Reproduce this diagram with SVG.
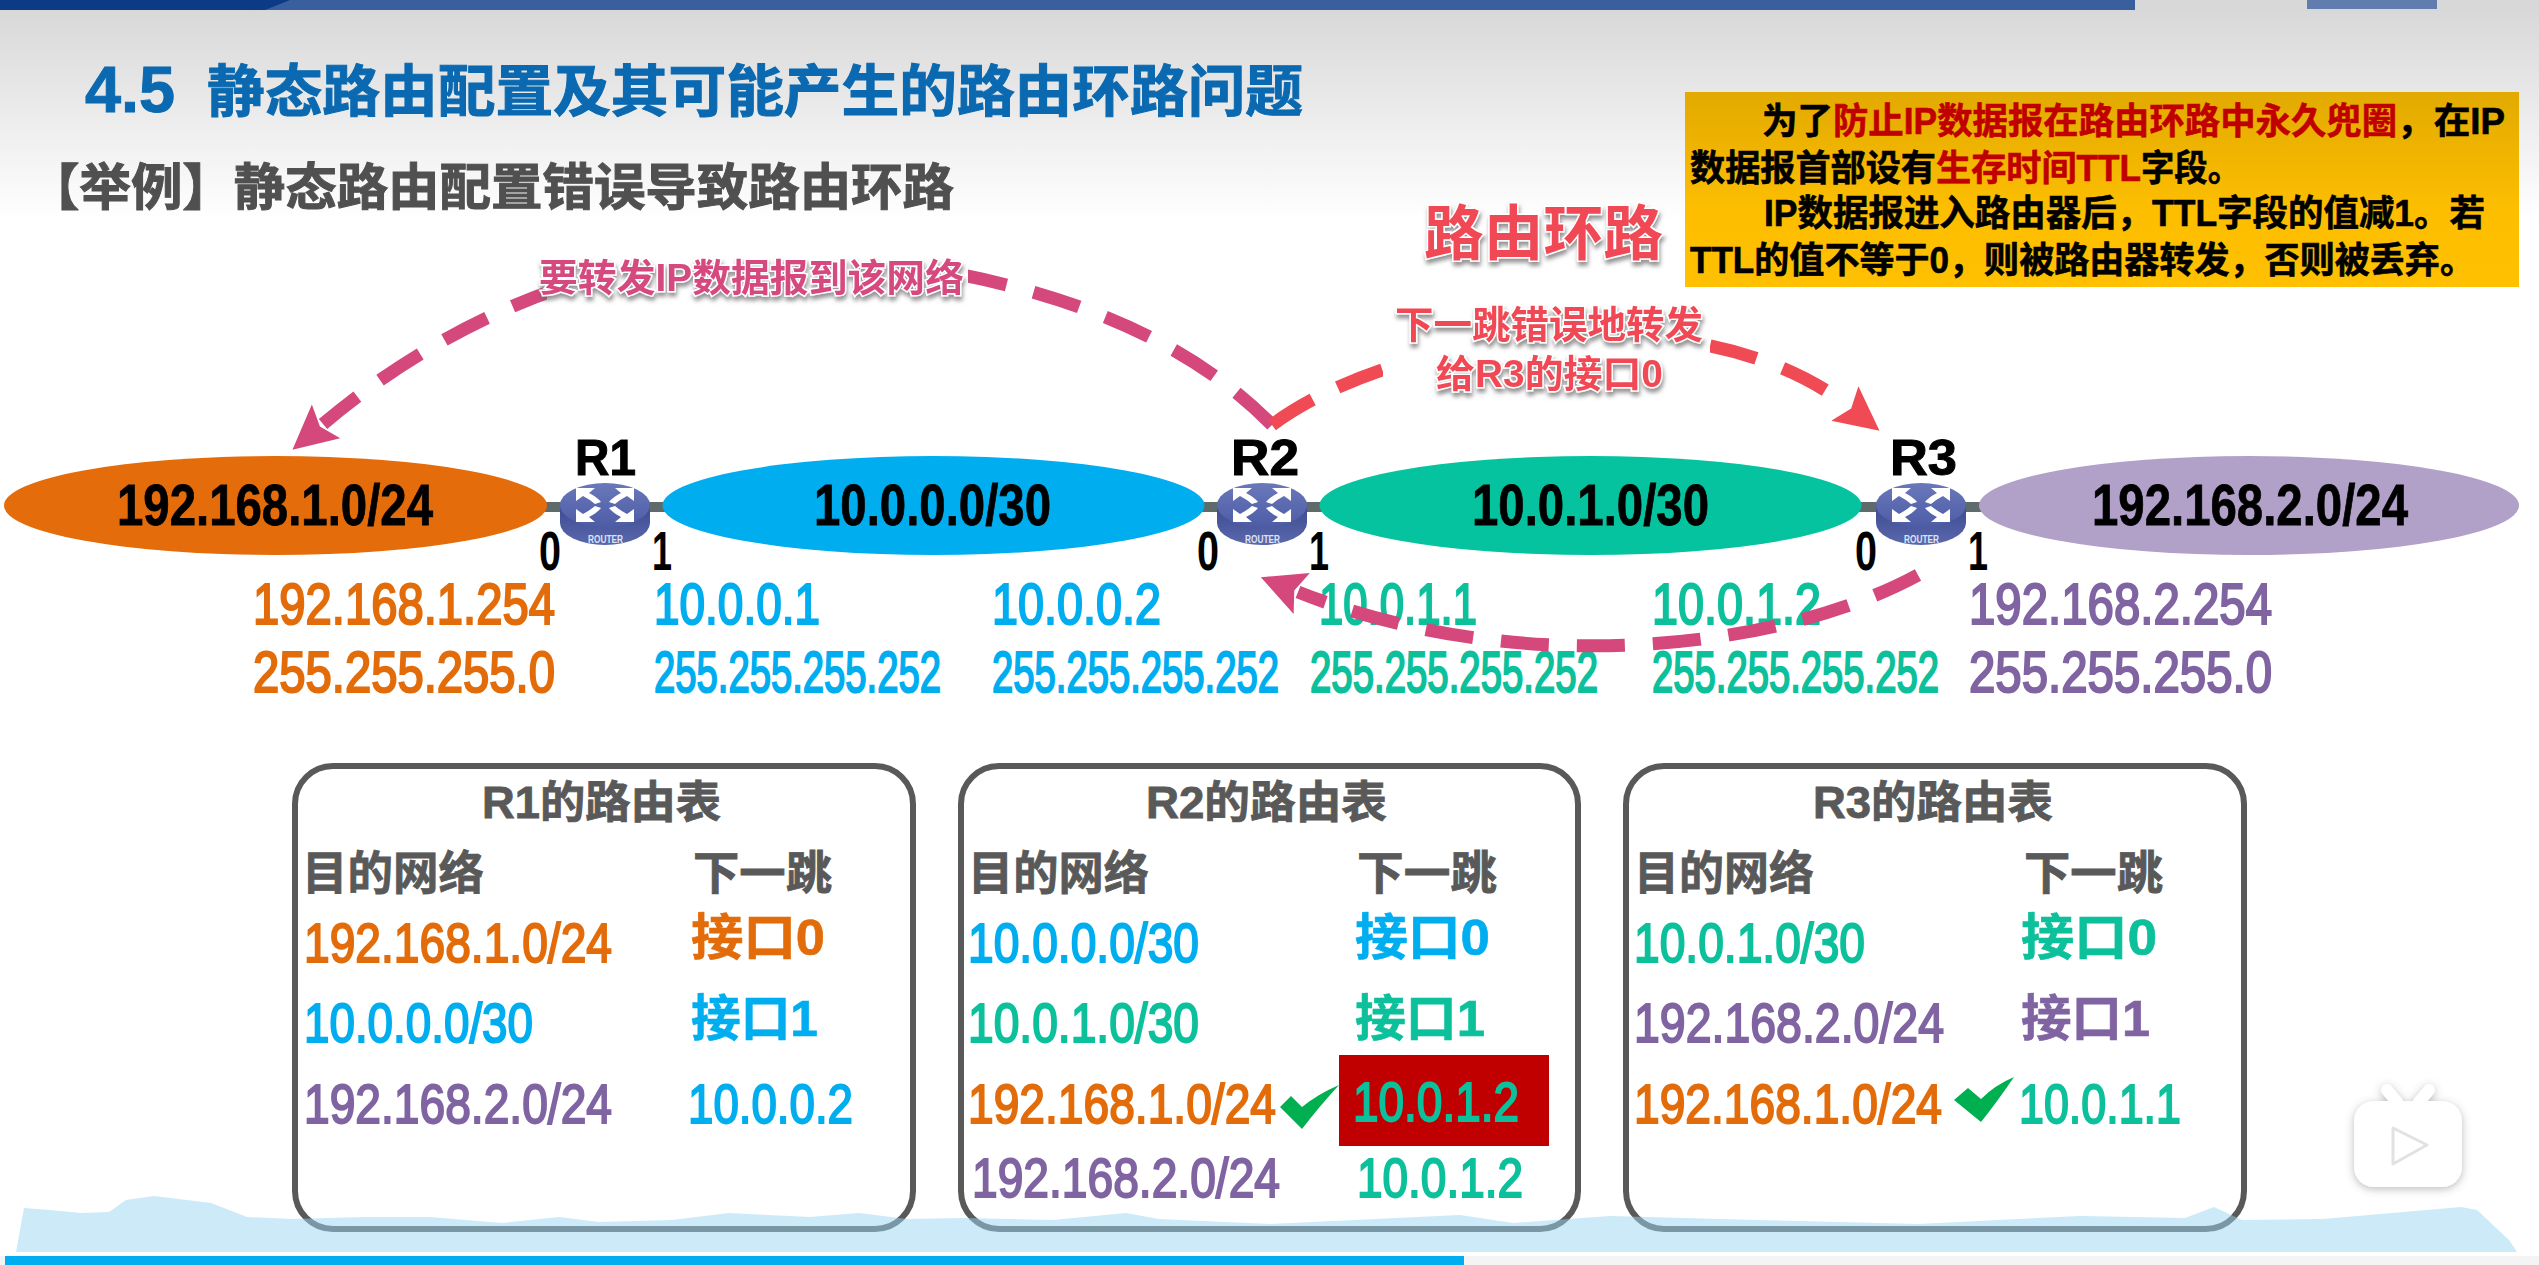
<svg xmlns="http://www.w3.org/2000/svg" xmlns:xlink="http://www.w3.org/1999/xlink" width="2539" height="1265" viewBox="0 0 2539 1265">
<defs>
<style>
text{font-family:"Liberation Sans","Noto Sans CJK SC",sans-serif}
.b{font-weight:700;stroke-width:1px}
.ip{font-size:58px;stroke-width:2.2px}
.rt{font-size:56px;stroke-width:2px}
.net{font-size:58px;font-weight:700;fill:#000;stroke:#000;stroke-width:.8px}
.rl{font-size:50px;font-weight:700;fill:#000;stroke:#000;stroke-width:1px}
.if{font-size:56px;font-weight:700;fill:#000}
.note{font-size:36px;font-weight:700;fill:#000;stroke:#000;stroke-width:.6px}
.note.red{fill:#c00000;stroke:#c00000}
.tt{font-size:44px;font-weight:700;fill:#595959;stroke:#595959;stroke-width:.8px}
.hd{font-size:46px;font-weight:700;fill:#595959;stroke:#595959;stroke-width:.8px}
.nh{font-size:50px;font-weight:700;stroke-width:.6px}
.or{fill:#e36c0a;stroke:#e36c0a}
.bl{fill:#00aeef;stroke:#00aeef}
.gr{fill:#0cc09b;stroke:#0cc09b}
.pu{fill:#8064a2;stroke:#8064a2}
.tbl{fill:none;stroke:#595959;stroke-width:6}
.link{fill:#5f6a6a}
.arc{fill:none;stroke-width:13;stroke-dasharray:48 28}
.pk{stroke:#d4487c}
.rd{stroke:#f04a54}
.lab{font-weight:700;paint-order:stroke;stroke:#fff;stroke-width:3px;filter:url(#sh)}
.chk{fill:#00b050}
.rtxt{font-size:11px;font-weight:700;fill:#dfe3f5}
</style>
<linearGradient id="bg" x1="0" y1="0" x2="0" y2="1"><stop offset="0" stop-color="#d8d8d8"/><stop offset="1" stop-color="#fff"/></linearGradient>
<linearGradient id="nb" x1="0" y1="0" x2="0" y2="1"><stop offset="0" stop-color="#e2aa00"/><stop offset="0.6" stop-color="#fdbe00"/><stop offset="1" stop-color="#ffc000"/></linearGradient>
<linearGradient id="rtop" x1="0" y1="0" x2="0" y2="1"><stop offset="0" stop-color="#6a78bb"/><stop offset="1" stop-color="#4d5ca5"/></linearGradient>
<linearGradient id="rside" x1="0" y1="0" x2="0" y2="1"><stop offset="0" stop-color="#3d4a90"/><stop offset="1" stop-color="#5a68ad"/></linearGradient>
<filter id="sh" x="-10%" y="-20%" width="120%" height="150%"><feDropShadow dx="1" dy="4" stdDeviation="2" flood-color="#666" flood-opacity="0.7"/></filter>
<filter id="ic" x="-20%" y="-20%" width="140%" height="140%"><feDropShadow dx="0" dy="2" stdDeviation="4" flood-color="#555" flood-opacity="0.4"/></filter>
<marker id="hp" markerUnits="userSpaceOnUse" markerWidth="48" markerHeight="48" refX="4" refY="24" orient="auto"><path d="M0 2L44 24L0 46L8 24Z" fill="#d4487c"/></marker>
<marker id="hr" markerUnits="userSpaceOnUse" markerWidth="48" markerHeight="48" refX="4" refY="24" orient="auto"><path d="M0 2L44 24L0 46L8 24Z" fill="#f04a54"/></marker>
<g id="rbody">
<path d="M-45 0V18A45 22 0 0 0 45 18V0Z" fill="url(#rside)"/>
<ellipse cx="0" cy="0" rx="45" ry="22" fill="url(#rtop)"/>
<g fill="#fff">
<path d="M-29 -17H-10L-16 -12Q-8 -8 -4 -3L-10 -1Q-16 -6 -22 -9L-29 -4Z"/>
<path d="M29 -17H10L16 -12Q8 -8 4 -3L10 -1Q16 -6 22 -9L29 -4Z"/>
<path d="M-29 17H-10L-16 12Q-8 8 -4 3L-10 1Q-16 6 -22 9L-29 4Z"/>
<path d="M29 17H10L16 12Q8 8 4 3L10 1Q16 6 22 9L29 4Z"/>
</g>
</g>
</defs>

<g id="background">
<rect width="2539" height="1265" fill="#fff"/>
<rect width="2539" height="10" fill="#d8d8d8"/>
<rect y="10" width="2539" height="210" fill="url(#bg)"/>
<rect width="2135" height="10" fill="#3a5f9f"/>
<path d="M0 0H290L265 10H0Z" fill="#0c3a84"/>
<rect x="2307" width="130" height="9" fill="#3a5f9f" opacity="0.75"/>
</g>

<g id="title">
<text class="b" x="85" y="112" font-size="65" fill="#0a69b0" stroke="#0a69b0" textLength="90" lengthAdjust="spacingAndGlyphs">4.5</text>
<text class="b" x="207" y="111" font-size="56" fill="#0a69b0" stroke="#0a69b0" textLength="1096" lengthAdjust="spacingAndGlyphs">静态路由配置及其可能产生的路由环路问题</text>
<text class="b" x="28" y="205" font-size="50" fill="#505050" stroke="#505050" textLength="926" lengthAdjust="spacingAndGlyphs">【举例】静态路由配置错误导致路由环路</text>
</g>

<g id="note">
<rect x="1685" y="92" width="834" height="195" fill="url(#nb)"/>
<text class="note" x="1762" y="134" textLength="71" lengthAdjust="spacingAndGlyphs">为了</text>
<text class="note red" x="1833" y="134" textLength="564" lengthAdjust="spacingAndGlyphs">防止IP数据报在路由环路中永久兜圈</text>
<text class="note" x="2397" y="134" textLength="108" lengthAdjust="spacingAndGlyphs">，在IP</text>
<text class="note" x="1690" y="181" textLength="246" lengthAdjust="spacingAndGlyphs">数据报首部设有</text>
<text class="note red" x="1936" y="181" textLength="205" lengthAdjust="spacingAndGlyphs">生存时间TTL</text>
<text class="note" x="2141" y="181" textLength="100" lengthAdjust="spacingAndGlyphs">字段。</text>
<text class="note" x="1764" y="226" textLength="721" lengthAdjust="spacingAndGlyphs">IP数据报进入路由器后，TTL字段的值减1。若</text>
<text class="note" x="1690" y="273" textLength="785" lengthAdjust="spacingAndGlyphs">TTL的值不等于0，则被路由器转发，否则被丢弃。</text>
</g>

<g id="links">
<rect class="link" x="540" y="502" width="130" height="10"/>
<rect class="link" x="1197" y="502" width="130" height="10"/>
<rect class="link" x="1854" y="502" width="130" height="10"/>
</g>

<g id="net-192-168-1">
<ellipse cx="275.500" cy="505.500" rx="271.500" ry="49.500" fill="#e46c0a"/>
<text class="net" x="117" y="525" textLength="316" lengthAdjust="spacingAndGlyphs">192.168.1.0/24</text>
</g>
<g id="net-10-0-0">
<ellipse cx="933.500" cy="505.500" rx="271" ry="49.500" fill="#00aeef"/>
<text class="net" x="814" y="525" textLength="237" lengthAdjust="spacingAndGlyphs">10.0.0.0/30</text>
</g>
<g id="net-10-0-1">
<ellipse cx="1590.500" cy="505.500" rx="271" ry="49.500" fill="#06c3a0"/>
<text class="net" x="1472" y="525" textLength="237" lengthAdjust="spacingAndGlyphs">10.0.1.0/30</text>
</g>
<g id="net-192-168-2">
<ellipse cx="2249" cy="505.500" rx="270" ry="49.500" fill="#b1a0c7"/>
<text class="net" x="2092" y="525" textLength="316" lengthAdjust="spacingAndGlyphs">192.168.2.0/24</text>
</g>

<g id="R1">
<use href="#rbody" xlink:href="#rbody" transform="translate(605 505)"/>
<text class="rtxt" x="588" y="543" textLength="35" lengthAdjust="spacingAndGlyphs">ROUTER</text>
<text class="rl" x="575" y="475" textLength="61" lengthAdjust="spacingAndGlyphs">R1</text>
<text class="if" x="539" y="570" textLength="22" lengthAdjust="spacingAndGlyphs">0</text>
<text class="if" x="652" y="570" textLength="20" lengthAdjust="spacingAndGlyphs">1</text>
</g>
<g id="R2">
<use href="#rbody" xlink:href="#rbody" transform="translate(1262 505)"/>
<text class="rtxt" x="1245" y="543" textLength="35" lengthAdjust="spacingAndGlyphs">ROUTER</text>
<text class="rl" x="1231" y="475" textLength="68" lengthAdjust="spacingAndGlyphs">R2</text>
<text class="if" x="1197" y="570" textLength="22" lengthAdjust="spacingAndGlyphs">0</text>
<text class="if" x="1309" y="570" textLength="20" lengthAdjust="spacingAndGlyphs">1</text>
</g>
<g id="R3">
<use href="#rbody" xlink:href="#rbody" transform="translate(1921 505)"/>
<text class="rtxt" x="1904" y="543" textLength="35" lengthAdjust="spacingAndGlyphs">ROUTER</text>
<text class="rl" x="1890" y="475" textLength="67" lengthAdjust="spacingAndGlyphs">R3</text>
<text class="if" x="1855" y="570" textLength="22" lengthAdjust="spacingAndGlyphs">0</text>
<text class="if" x="1968" y="570" textLength="20" lengthAdjust="spacingAndGlyphs">1</text>
</g>

<g id="addresses">
<text class="ip or" x="253" y="624" textLength="302" lengthAdjust="spacingAndGlyphs">192.168.1.254</text>
<text class="ip or" x="253" y="692" textLength="302" lengthAdjust="spacingAndGlyphs">255.255.255.0</text>
<text class="ip bl" x="654" y="624" textLength="166" lengthAdjust="spacingAndGlyphs">10.0.0.1</text>
<text class="ip bl" x="654" y="692" textLength="287" lengthAdjust="spacingAndGlyphs">255.255.255.252</text>
<text class="ip bl" x="992" y="624" textLength="169" lengthAdjust="spacingAndGlyphs">10.0.0.2</text>
<text class="ip bl" x="992" y="692" textLength="287" lengthAdjust="spacingAndGlyphs">255.255.255.252</text>
<text class="ip gr" x="1319" y="624" textLength="158" lengthAdjust="spacingAndGlyphs">10.0.1.1</text>
<text class="ip gr" x="1310" y="692" textLength="288" lengthAdjust="spacingAndGlyphs">255.255.255.252</text>
<text class="ip gr" x="1652" y="624" textLength="169" lengthAdjust="spacingAndGlyphs">10.0.1.2</text>
<text class="ip gr" x="1652" y="692" textLength="287" lengthAdjust="spacingAndGlyphs">255.255.255.252</text>
<text class="ip pu" x="1969" y="624" textLength="303" lengthAdjust="spacingAndGlyphs">192.168.2.254</text>
<text class="ip pu" x="1969" y="692" textLength="303" lengthAdjust="spacingAndGlyphs">255.255.255.0</text>
</g>

<g id="connectors">
<path class="arc pk" marker-end="url(#hp)" d="M1272 425C1150 300 950 260 760 252C600 254 445 321 323 424"/>
<path class="arc rd" marker-end="url(#hr)" d="M1272 425C1400 330 1700 290 1848 406"/>
<path class="arc pk" marker-end="url(#hp)" d="M1918 575C1780 650 1520 680 1298 592"/>
</g>

<g id="label-forward">
<rect x="547" y="245" width="421" height="55" fill="#fff"/>
<text class="lab" x="539" y="291" font-size="38" fill="#d6487e" textLength="425" lengthAdjust="spacingAndGlyphs">要转发IP数据报到该网络</text>
</g>
<g id="label-loop">
<rect x="1383" y="300" width="327" height="100" fill="#fff"/>
<text class="lab" x="1424" y="255" font-size="60" fill="#f04a54" textLength="239" lengthAdjust="spacingAndGlyphs">路由环路</text>
<text class="lab" x="1395" y="338" font-size="38" fill="#f04a54" textLength="308" lengthAdjust="spacingAndGlyphs">下一跳错误地转发</text>
<text class="lab" x="1436" y="387" font-size="38" fill="#f04a54" textLength="227" lengthAdjust="spacingAndGlyphs">给R3的接口0</text>
</g>

<g id="table-R1">
<rect class="tbl" x="295" y="766" width="618" height="463" rx="38"/>
<text class="tt" x="482" y="818" textLength="239" lengthAdjust="spacingAndGlyphs">R1的路由表</text>
<text class="hd" x="302" y="889" textLength="182" lengthAdjust="spacingAndGlyphs">目的网络</text>
<text class="hd" x="693" y="889" textLength="139" lengthAdjust="spacingAndGlyphs">下一跳</text>
<text class="rt or" x="304" y="962" textLength="308" lengthAdjust="spacingAndGlyphs">192.168.1.0/24</text>
<text class="nh or" x="691" y="955" textLength="134" lengthAdjust="spacingAndGlyphs">接口0</text>
<text class="rt bl" x="304" y="1042" textLength="229" lengthAdjust="spacingAndGlyphs">10.0.0.0/30</text>
<text class="nh bl" x="691" y="1036" textLength="127" lengthAdjust="spacingAndGlyphs">接口1</text>
<text class="rt pu" x="304" y="1123" textLength="308" lengthAdjust="spacingAndGlyphs">192.168.2.0/24</text>
<text class="rt bl" x="688" y="1123" textLength="165" lengthAdjust="spacingAndGlyphs">10.0.0.2</text>
</g>

<g id="table-R2">
<rect class="tbl" x="961" y="766" width="617" height="463" rx="38"/>
<text class="tt" x="1146" y="818" textLength="241" lengthAdjust="spacingAndGlyphs">R2的路由表</text>
<text class="hd" x="968" y="889" textLength="181" lengthAdjust="spacingAndGlyphs">目的网络</text>
<text class="hd" x="1357" y="889" textLength="140" lengthAdjust="spacingAndGlyphs">下一跳</text>
<text class="rt bl" x="968" y="962" textLength="231" lengthAdjust="spacingAndGlyphs">10.0.0.0/30</text>
<text class="nh bl" x="1355" y="955" textLength="135" lengthAdjust="spacingAndGlyphs">接口0</text>
<text class="rt gr" x="968" y="1042" textLength="231" lengthAdjust="spacingAndGlyphs">10.0.1.0/30</text>
<text class="nh gr" x="1355" y="1036" textLength="130" lengthAdjust="spacingAndGlyphs">接口1</text>
<text class="rt or" x="968" y="1123" textLength="308" lengthAdjust="spacingAndGlyphs">192.168.1.0/24</text>
<rect x="1339" y="1055" width="210" height="91" fill="#c00000"/>
<text class="rt gr" x="1353" y="1121" textLength="166" lengthAdjust="spacingAndGlyphs">10.0.1.2</text>
<path class="chk" d="M1280 1107L1291 1096L1302 1107Q1318 1094 1339 1085Q1318 1108 1302 1129Z"/>
<text class="rt pu" x="972" y="1197" textLength="308" lengthAdjust="spacingAndGlyphs">192.168.2.0/24</text>
<text class="rt gr" x="1357" y="1197" textLength="166" lengthAdjust="spacingAndGlyphs">10.0.1.2</text>
</g>

<g id="table-R3">
<rect class="tbl" x="1626" y="766" width="618" height="463" rx="38"/>
<text class="tt" x="1813" y="818" textLength="240" lengthAdjust="spacingAndGlyphs">R3的路由表</text>
<text class="hd" x="1634" y="889" textLength="180" lengthAdjust="spacingAndGlyphs">目的网络</text>
<text class="hd" x="2024" y="889" textLength="139" lengthAdjust="spacingAndGlyphs">下一跳</text>
<text class="rt gr" x="1634" y="962" textLength="231" lengthAdjust="spacingAndGlyphs">10.0.1.0/30</text>
<text class="nh gr" x="2021" y="955" textLength="136" lengthAdjust="spacingAndGlyphs">接口0</text>
<text class="rt pu" x="1634" y="1042" textLength="310" lengthAdjust="spacingAndGlyphs">192.168.2.0/24</text>
<text class="nh pu" x="2021" y="1036" textLength="129" lengthAdjust="spacingAndGlyphs">接口1</text>
<text class="rt or" x="1634" y="1123" textLength="308" lengthAdjust="spacingAndGlyphs">192.168.1.0/24</text>
<path class="chk" d="M1954 1100L1968 1088L1981 1099Q1995 1085 2014 1077Q1997 1102 1981 1122Z"/>
<text class="rt gr" x="2019" y="1123" textLength="162" lengthAdjust="spacingAndGlyphs">10.0.1.1</text>
</g>

<g id="footer">
<path d="M16 1252L24 1208L49 1210L81 1213L109 1212L126 1200L154 1196L211 1203L247 1217L292 1219L364 1217L429 1217L502 1223L559 1217L599 1222L672 1220L729 1213L810 1217L859 1213L907 1219L964 1218L1053 1220L1126 1213L1158 1219L1270 1224L1460 1215L1513 1223L1610 1216L1756 1220L1918 1224L2080 1216L2185 1218L2214 1207L2242 1220L2323 1219L2461 1207L2477 1210L2509 1240L2517 1252Z" fill="#99d5f2" opacity="0.5"/>
<rect y="1256" width="2539" height="9" fill="#f4f4f4"/>
<rect x="5" y="1256" width="1459" height="9" fill="#00aeef"/>
</g>

<g id="play-badge">
<g filter="url(#ic)" fill="#fff">
<path d="M2387 1090L2397 1102M2429 1090L2419 1102" stroke="#fff" stroke-width="12" stroke-linecap="round" fill="none"/>
<rect x="2354" y="1101" width="108" height="86" rx="20"/>
</g>
<path d="M2393 1128L2427 1145L2393 1164Z" fill="#fff" stroke="#e2e2e2" stroke-width="3" stroke-linejoin="round"/>
</g>
</svg>
